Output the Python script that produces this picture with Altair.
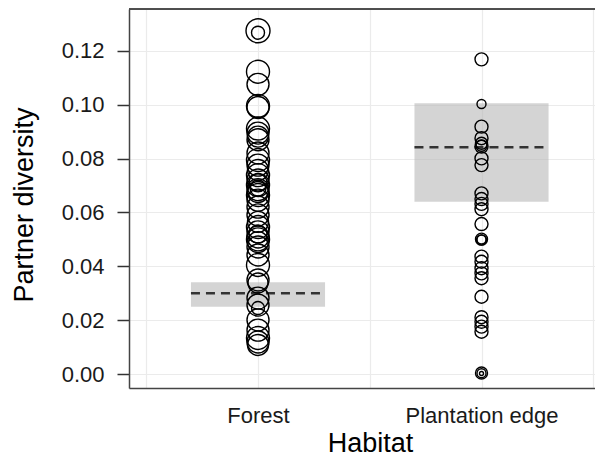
import altair as alt
import pandas as pd

# ---- data ----
habitats = ["Forest", "Plantation edge"]

forest_values = [0.1275, 0.1268, 0.1123, 0.1076, 0.0996, 0.0990, 0.0912, 0.0895,
                 0.0882, 0.0870, 0.0821, 0.0795, 0.0776, 0.0758, 0.0739, 0.0721,
                 0.0710, 0.0702, 0.0691, 0.0685, 0.0676, 0.0665, 0.0646, 0.0620,
                 0.0591, 0.0565, 0.0546, 0.0528, 0.0520, 0.0509, 0.0500, 0.0490,
                 0.0472, 0.0442, 0.0405, 0.0349, 0.0338, 0.0282, 0.0256, 0.0245,
                 0.0201, 0.0163, 0.0134, 0.0119, 0.0108]
forest_diam = [24, 13, 23, 22, 23, 22, 23, 22, 21, 22, 22, 23, 22, 21, 23, 22,
               18, 23, 16, 22, 21, 23, 22, 22, 22, 21, 23, 22, 18, 22, 23, 21,
               22, 22, 23, 22, 20, 22, 22, 13, 22, 22, 23, 22, 21]

plant_values = [0.1169, 0.1003, 0.0919, 0.0876, 0.0857, 0.0848, 0.0845, 0.0801,
                0.0776, 0.0671, 0.0650, 0.0632, 0.0612, 0.0557, 0.0501, 0.0500,
                0.0498, 0.0436, 0.0417, 0.0393, 0.0374, 0.0356, 0.0287, 0.0211,
                0.0194, 0.0176, 0.0157, 0.0004, 0.0003, 0.0002]
plant_diam = [13, 9, 13, 13, 12, 11, 13, 13, 13, 13, 13, 13, 13, 13, 12, 9,
              10, 13, 13, 13, 13, 13, 13, 13, 13, 13, 13, 12, 9, 4]

box_lo = [0.0250, 0.0640]
box_hi = [0.0341, 0.1006]
box_mid = [0.0300, 0.0842]

# ---- tables ----
pts = pd.DataFrame({
    "habitat": [habitats[0]] * len(forest_values) + [habitats[1]] * len(plant_values),
    "hx": [1] * len(forest_values) + [2] * len(plant_values),
    "value": forest_values + plant_values,
    "size": [d * d for d in forest_diam + plant_diam],
})
boxes = pd.DataFrame({
    "habitat": habitats,
    "hx": [1, 2],
    "lo": box_lo,
    "hi": box_hi,
    "mid": box_mid,
})
boxes["x1"] = boxes["hx"] - 0.3
boxes["x2"] = boxes["hx"] + 0.3

W, H = 466, 379
font = "Liberation Sans"

xscale = alt.Scale(domain=[0.4228, 0.4228 + W / 223.5], nice=False, zero=False)
yscale = alt.Scale(domain=[-0.0052, 0.1356], nice=False, zero=False)

xaxis = alt.Axis(
    values=[0.5, 1, 1.5, 2, 2.5],
    labelExpr="datum.value == 1 ? 'Forest' : (datum.value == 2 ? 'Plantation edge' : '')",
    ticks=False, tickSize=0, labelPadding=34, labelBaseline="alphabetic",
    labelOverlap=False, labelFlush=False,
    labelFontSize=22, labelColor="#1a1a1a", labelFont=font,
    domainColor="#444444", domainWidth=1.5,
    grid=True, gridColor="#ebebeb", gridWidth=1.2,
    title="Habitat", titleFontSize=27, titleFontWeight="normal", titleFont=font,
    titleColor="#000000", titleX=241, titleY=63, titleBaseline="alphabetic",
    titleAlign="center",
)
yaxis = alt.Axis(
    values=[0, 0.02, 0.04, 0.06, 0.08, 0.10, 0.12], format=".2f",
    tickSize=12, tickColor="#333333", tickWidth=1.5, labelPadding=13,
    labelFontSize=22, labelColor="#1a1a1a", labelFont=font,
    domainColor="#444444", domainWidth=1.5,
    grid=True, gridColor="#ebebeb", gridWidth=1.2,
    title="Partner diversity", titleFontSize=27, titleFontWeight="normal",
    titleFont=font, titleColor="#000000", titleX=-97, titleY=195.5,
    titleAngle=270, titleBaseline="alphabetic", titleAlign="center",
)

rects = alt.Chart(boxes).mark_rect(color="#b8b8b8", opacity=0.6).encode(
    x=alt.X("x1:Q", scale=xscale, axis=xaxis),
    x2="x2:Q",
    y=alt.Y("lo:Q", scale=yscale, axis=yaxis),
    y2="hi:Q",
)
dashes = alt.Chart(boxes).mark_rule(color="#333333", strokeWidth=2.5,
                                    strokeDash=[9, 6]).encode(
    x=alt.X("x1:Q", scale=xscale),
    x2="x2:Q",
    y=alt.Y("mid:Q", scale=yscale),
)
points = alt.Chart(pts).mark_point(shape="circle", filled=False, color="#000000",
                                   strokeWidth=1.4, opacity=1).encode(
    x=alt.X("hx:Q", scale=xscale),
    y=alt.Y("value:Q", scale=yscale),
    size=alt.Size("size:Q", scale=None, legend=None),
)
topline = alt.Chart(boxes).mark_rule(color="#444444", strokeWidth=1.5).encode(
    x=alt.value(0), x2=alt.value(W), y=alt.value(0)
)

chart = alt.layer(rects, dashes, points, topline).properties(
    width=W, height=H,
    autosize=alt.AutoSizeParams(type="none"),
    padding={"left": 121, "top": 1, "right": 0, "bottom": 68},
).configure_view(stroke=None).configure(background="white")

chart.save("out.html", embed_options={"renderer": "svg", "actions": False})
